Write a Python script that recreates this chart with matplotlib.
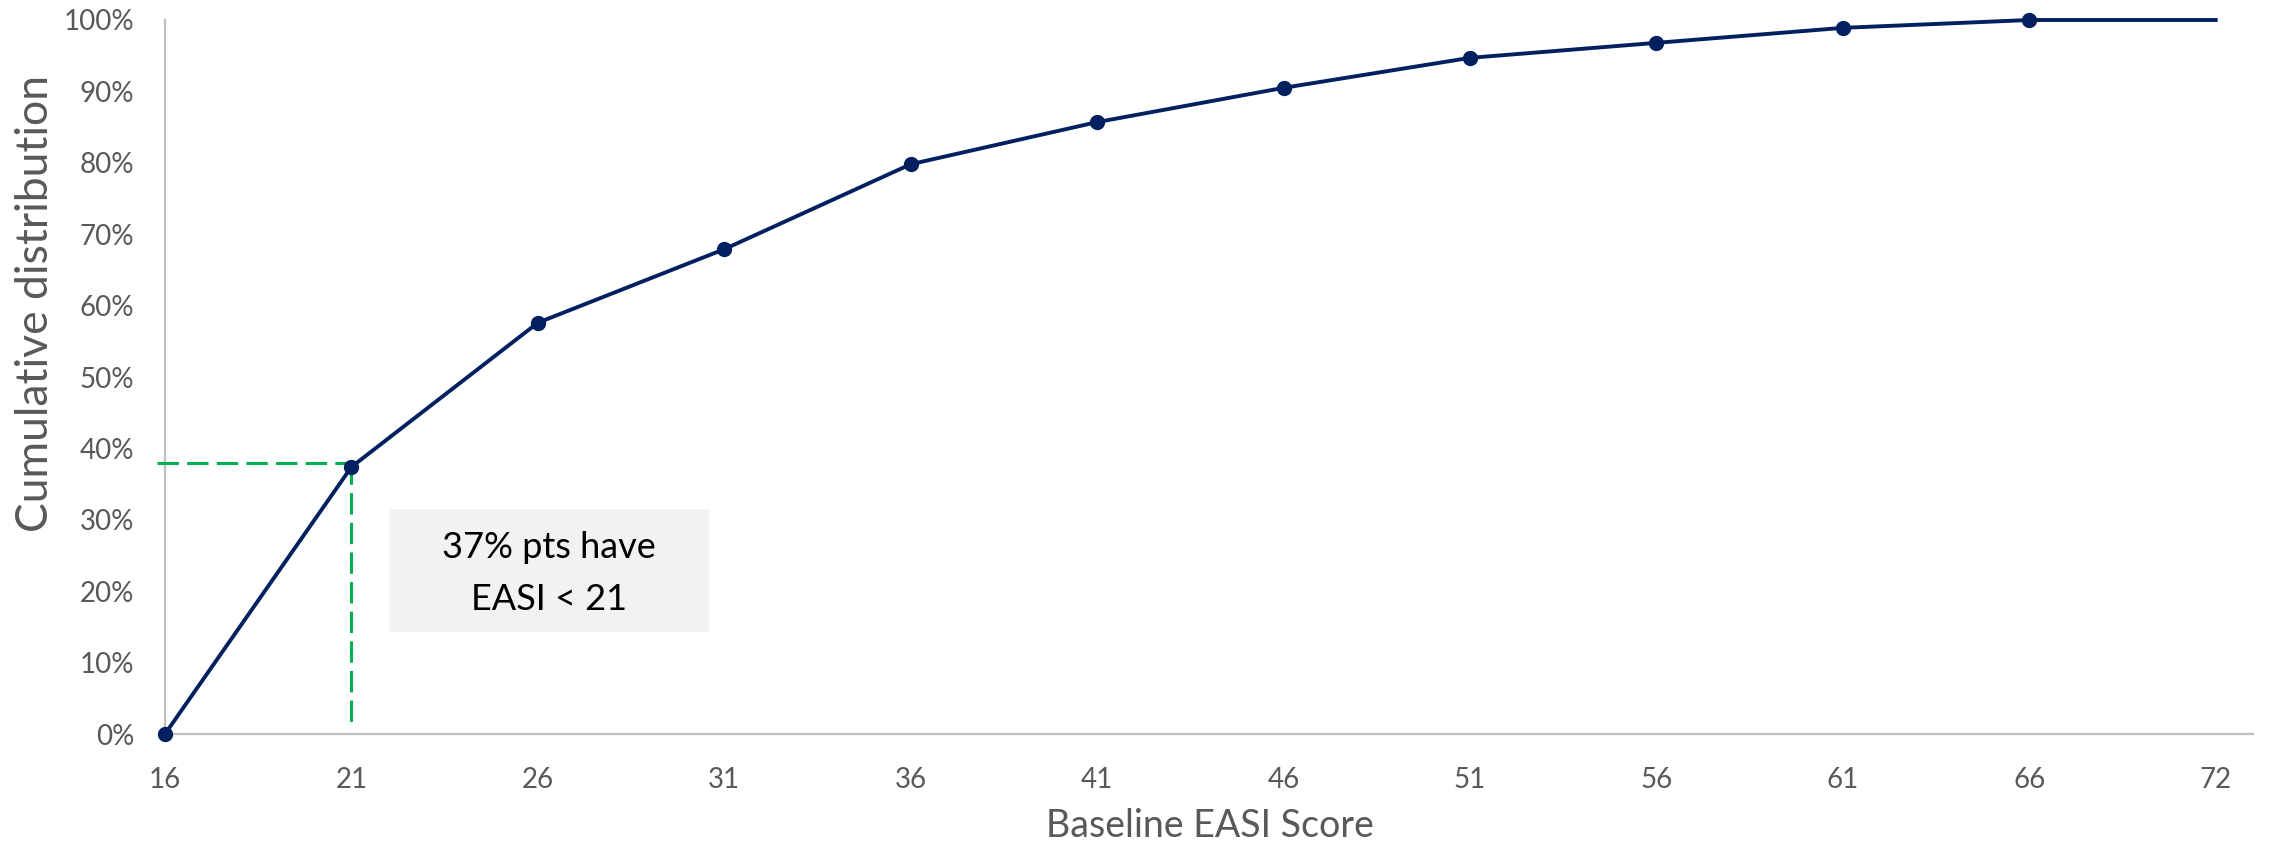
import numpy as np
import matplotlib
matplotlib.use("Agg")
from matplotlib import pyplot as plt
from matplotlib.patches import Rectangle
from matplotlib.ticker import FuncFormatter

# baseline EASI score bins and cumulative share of patients
scores = ["16", "21", "26", "31", "36", "41", "46", "51", "56", "61", "66", "72"]
cum_share = [0.0, 0.374, 0.576, 0.679, 0.798, 0.857, 0.905, 0.947, 0.968, 0.989, 1.0, 1.0]
ref_idx = 1          # EASI 21
ref_level = 0.38     # guide line level
note_lines = ["37% pts have", "EASI < 21"]

NAVY = "#002060"
GREEN = "#00B050"
GREY_TXT = "#595959"
AXIS_GREY = "#BFBFBF"

plt.rcParams["font.family"] = ["Lato", "DejaVu Sans"]

fig = plt.figure(figsize=(22.79, 8.47), dpi=100)
ax = fig.add_axes([165 / 2279, 113 / 847, 2088 / 2279, 714 / 847])

x = np.arange(len(scores))
ax.plot(x, cum_share, color=NAVY, lw=2.8, marker="o", ms=10,
        markevery=list(range(len(scores) - 1)), clip_on=False, zorder=4,
        solid_joinstyle="round")

# dashed guides to the EASI 21 point
ax.plot([-0.045, x[ref_idx]], [ref_level, ref_level], color=GREEN, lw=2.2,
        dashes=(7, 2.7), clip_on=False, zorder=3)
ax.plot([x[ref_idx], x[ref_idx]], [ref_level, 0.01], color=GREEN, lw=2.2,
        dashes=(7, 2.7), clip_on=False, zorder=3)

# note box
ax.add_patch(Rectangle((1.20, 0.143), 1.717, 0.172, facecolor="#F2F2F2",
                       edgecolor="none", zorder=2))
ax.text(2.059, 0.2465, note_lines[0], ha="center", va="baseline",
        fontsize=26, color="black", zorder=5)
ax.text(2.059, 0.1737, note_lines[1], ha="center", va="baseline",
        fontsize=26, color="black", zorder=5)

ax.set_xlim(0, 11.2)
ax.set_ylim(0, 1)
ax.set_xticks(x)
ax.set_xticklabels(scores)
ax.set_yticks(np.arange(0, 1.01, 0.1))
ax.yaxis.set_major_formatter(FuncFormatter(lambda v, _: f"{v:.0%}"))
ax.tick_params(axis="both", length=0, labelsize=20, labelcolor=GREY_TXT)
ax.tick_params(axis="x", pad=24)
ax.tick_params(axis="y", pad=22)

for side in ["top", "right"]:
    ax.spines[side].set_visible(False)
for side in ["left", "bottom"]:
    ax.spines[side].set_color(AXIS_GREY)
    ax.spines[side].set_linewidth(1.6)

ax.set_xlabel("Baseline EASI Score", fontsize=27, color=GREY_TXT)
ax.xaxis.set_label_coords(0.5005, -0.1036)
ax.set_ylabel("Cumulative distribution", fontsize=32, color=GREY_TXT)
ax.yaxis.set_label_coords(-0.052, 0.603)

fig.savefig("out.png", dpi=100)
